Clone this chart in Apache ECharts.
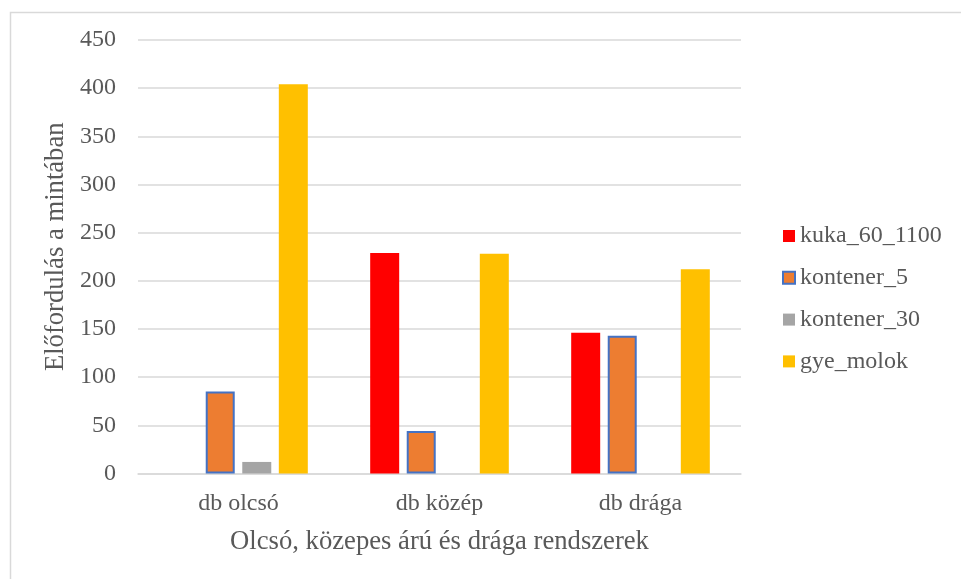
<!DOCTYPE html>
<html>
<head>
<meta charset="utf-8">
<title>Előfordulás a mintában</title>
<script src="https://cdn.jsdelivr.net/npm/echarts@6/dist/echarts.min.js"></script>
<style>
  html, body { margin: 0; padding: 0; background: #ffffff; }
  #chart { width: 961px; height: 579px; }
</style>
</head>
<body>
<div id="chart"></div>
<script>
// Categories and series values
const categories = ['db olcsó', 'db közép', 'db drága'];
const kuka_60_1100 = [0, 229, 146];
const kontener_5 = [85, 44, 143];
const kontener_30 = [12, 0, 0];
const gye_molok = [404, 228, 212];
const yTicks = [0, 50, 100, 150, 200, 250, 300, 350, 400, 450];

const FONT = "'Liberation Serif', 'Times New Roman', serif";
const TEXT = '#595959';
const GRID = '#d9d9d9';

const chart = echarts.init(document.getElementById('chart'), null, { renderer: 'canvas' });

const bar = (name, data, color, extra) => ({
  name: name,
  type: 'bar',
  data: data,
  barWidth: 29,
  barGap: '26%',
  itemStyle: Object.assign({ color: color }, extra || {}),
  emphasis: { disabled: true }
});

chart.setOption({
  animation: false,
  backgroundColor: '#ffffff',
  graphic: [{
    type: 'rect',
    left: 8, top: 10,
    shape: { width: 1200, height: 900 },
    style: { fill: 'none', stroke: GRID, lineWidth: 1.5 },
    silent: true,
    z: -10
  }],
  grid: { left: 138, right: 220, top: 40, bottom: 105.5, containLabel: false },
  legend: {
    orient: 'vertical',
    left: 777,
    top: 219,
    itemWidth: 12,
    itemHeight: 12,
    itemGap: 17.8,
    icon: 'rect',
    textStyle: { fontFamily: FONT, fontSize: 24, color: TEXT },
    data: ['kuka_60_1100', 'kontener_5', 'kontener_30', 'gye_molok']
  },
  xAxis: {
    type: 'category',
    data: categories,
    name: 'Olcsó, közepes árú és drága rendszerek',
    nameLocation: 'middle',
    nameGap: 55,
    nameTextStyle: { fontFamily: FONT, fontSize: 26.67, color: TEXT },
    axisLine: { show: true, lineStyle: { color: GRID, width: 1.5 } },
    axisTick: { show: false },
    axisLabel: { fontFamily: FONT, fontSize: 24, color: TEXT, margin: 18 }
  },
  yAxis: {
    type: 'value',
    min: yTicks[0],
    max: yTicks[yTicks.length - 1],
    interval: 50,
    name: 'Előfordulás a mintában',
    nameLocation: 'middle',
    nameGap: 64,
    nameTextStyle: { fontFamily: FONT, fontSize: 26.67, color: TEXT, padding: [0, 0, 0, 20] },
    axisLine: { show: false },
    axisTick: { show: false },
    splitLine: { show: true, lineStyle: { color: GRID, width: 1.5 } },
    axisLabel: { fontFamily: FONT, fontSize: 24, color: TEXT, margin: 22 }
  },
  series: [
    bar('kuka_60_1100', kuka_60_1100, '#ff0000'),
    bar('kontener_5', kontener_5, '#ed7d31', { borderColor: '#4472c4', borderWidth: 2 }),
    bar('kontener_30', kontener_30, '#a5a5a5'),
    bar('gye_molok', gye_molok, '#ffc000')
  ]
});
</script>
</body>
</html>
